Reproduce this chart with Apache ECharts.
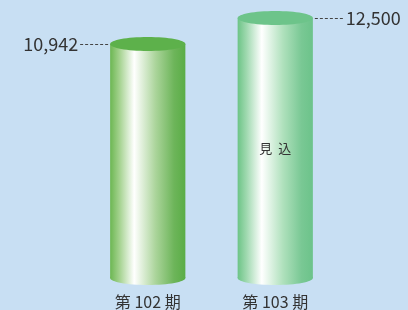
<!DOCTYPE html>
<html>
<head>
<meta charset="utf-8">
<script src="https://cdn.jsdelivr.net/npm/echarts@6/dist/echarts.min.js"></script>
<style>
  html, body { margin: 0; padding: 0; background: #c8dff3; }
  #chart { width: 408px; height: 310px; }
</style>
</head>
<body>
<div id="chart"></div>
<script>
// データ
var categories = ['第 102 期', '第 103 期']
var values = [10942, 12500]
var valueLabels = ['10,942', '12,500']
var notes = ['', '見  込']

// 円柱の色（左端・ハイライト・右端）
var palettes = [
  ['#6cb752', '#a2d18c', '#ffffff', '#acd59c', '#6db55a', '#5aad46'],
  ['#6cc486', '#a0d9b0', '#ffffff', '#b0e1bd', '#79c894', '#6cc38a']
]
var tops = ['#5db14b', '#6dc48a']

var chart = echarts.init(document.getElementById('chart'))

function renderCylinder(params, api) {
  var idx = params.dataIndex
  var top = api.coord([api.value(0), api.value(1)])
  var base = api.coord([api.value(0), -3140])
  var w = api.size([1, 0])[0] * 0.59
  var cx = top[0]
  var x0 = cx - w / 2
  var ry = 7
  var p = palettes[idx]
  var grad = new echarts.graphic.LinearGradient(0, 0, 1, 0, [
    { offset: 0, color: p[0] },
    { offset: 0.12, color: p[1] },
    { offset: 0.32, color: p[2] },
    { offset: 0.6, color: p[3] },
    { offset: 0.85, color: p[4] },
    { offset: 1, color: p[5] }
  ])
  var children = [
    { type: 'ellipse', shape: { cx: cx, cy: base[1], rx: w / 2, ry: ry }, style: { fill: grad } },
    { type: 'rect', shape: { x: x0, y: top[1], width: w, height: base[1] - top[1] }, style: { fill: grad } },
    { type: 'ellipse', shape: { cx: cx, cy: top[1], rx: w / 2, ry: ry }, style: { fill: tops[idx] } }
  ]
  // 値ラベルと点線
  var left = idx === 0
  var ly = Math.round(top[1]) + 0.5
  var lx1 = left ? x0 - 30 : x0 + w + 2
  var lx2 = left ? x0 - 1 : x0 + w + 32
  children.push({
    type: 'line',
    shape: { x1: lx1, y1: ly, x2: lx2, y2: ly },
    style: { stroke: '#444', lineWidth: 1, lineDash: [3, 2] }
  })
  children.push({
    type: 'text',
    x: left ? lx1 - 2 : lx2 + 1,
    y: top[1],
    style: {
      text: valueLabels[idx],
      fill: '#333',
      font: '18px "Noto Sans CJK JP", sans-serif',
      align: left ? 'right' : 'left',
      verticalAlign: 'middle'
    }
  })
  if (notes[idx]) {
    children.push({
      type: 'text',
      x: cx,
      y: (top[1] + base[1]) / 2,
      style: {
        text: notes[idx],
        fill: '#333',
        font: '13px "Noto Sans CJK JP", sans-serif',
        align: 'center',
        verticalAlign: 'middle'
      }
    })
  }
  return { type: 'group', children: children }
}

chart.setOption({
  backgroundColor: '#c8dff3',
  animation: false,
  grid: { left: 84, right: 69, top: 10, bottom: 31 },
  xAxis: {
    type: 'category',
    data: categories,
    axisLine: { show: false },
    axisTick: { show: false },
    axisLabel: {
      margin: 16,
      color: '#333',
      fontSize: 16,
      fontFamily: 'Noto Sans CJK JP'
    }
  },
  yAxis: {
    type: 'value',
    min: -3140,
    max: 12980,
    show: false,
    splitLine: { show: false }
  },
  series: [{
    type: 'custom',
    renderItem: renderCylinder,
    encode: { x: 0, y: 1 },
    clip: false,
    data: values.map(function (v, i) { return [i, v] })
  }]
})
</script>
</body>
</html>
